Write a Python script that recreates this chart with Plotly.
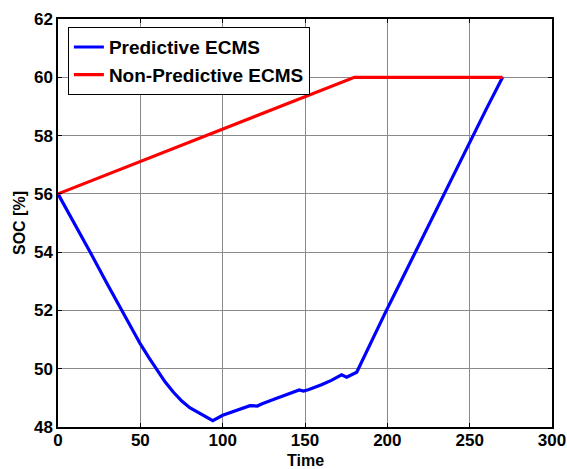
import plotly.graph_objects as go

# Predictive ECMS state-of-charge trajectory
pred_time = [0, 5, 10, 20, 30, 38.7, 44, 50, 55, 60, 65, 70, 75, 80, 87, 94, 100, 110,
             116.6, 121, 124, 132, 140, 146.5, 149, 152, 160, 166, 172.2, 175.3, 181.4,
             190, 199, 210, 220, 230, 240, 250, 260, 270]
pred_soc = [56.0, 55.5, 55.0, 53.95, 52.9, 52.0, 51.45, 50.85, 50.4, 49.96, 49.55, 49.2,
            48.9, 48.66, 48.45, 48.22, 48.4, 48.6, 48.73, 48.72, 48.8, 48.97, 49.12,
            49.27, 49.23, 49.28, 49.45, 49.6, 49.79, 49.71, 49.88, 50.9, 51.95, 53.2,
            54.35, 55.5, 56.65, 57.8, 58.9, 60.0]

# Non-predictive ECMS: linear charge then hold at the upper limit
nonpred_time = [0, 180, 270]
nonpred_soc = [56.0, 60.0, 60.0]

x_ticks = [0, 50, 100, 150, 200, 250, 300]
y_ticks = [48, 50, 52, 54, 56, 58, 60, 62]

font_family = "Liberation Sans, Arial, sans-serif"


def bold(s):
    return f"<b>{s}</b>"


fig = go.Figure()
fig.add_trace(go.Scatter(x=pred_time, y=pred_soc, mode="lines",
                         name=bold("Predictive ECMS"),
                         line=dict(color="#0000ff", width=3.2)))
fig.add_trace(go.Scatter(x=nonpred_time, y=nonpred_soc, mode="lines",
                         name=bold("Non-Predictive ECMS"),
                         line=dict(color="#ff0000", width=3.2)))

axis_common = dict(
    showline=True, linecolor="black", linewidth=1.5, mirror="ticks",
    ticks="inside", ticklen=4, tickcolor="black",
    showgrid=True, gridcolor="#8a8a8a", gridwidth=1,
    zeroline=False, automargin=False, ticklabeloverflow="allow",
    tickfont=dict(family=font_family, size=17, color="black"),
)

fig.update_xaxes(range=[0, 300], tickvals=x_ticks,
                 ticktext=[bold(v) for v in x_ticks],
                 ticklabelstandoff=-3,
                 **axis_common)
fig.update_yaxes(range=[48, 62], tickvals=y_ticks,
                 ticktext=[bold(v) for v in y_ticks],
                 title=dict(text=bold("SOC [%]"), standoff=4,
                            font=dict(family=font_family, size=16, color="black")),
                 **axis_common)

# x-axis title placed as an annotation just below the tick labels
fig.add_annotation(text=bold("Time"), xref="paper", yref="paper",
                   x=0.5, y=0, xanchor="center", yanchor="middle",
                   yshift=-33, showarrow=False, borderpad=0,
                   font=dict(family=font_family, size=16, color="black"))

fig.update_layout(
    width=567, height=469,
    margin=dict(l=58, r=15, t=19, b=42),
    paper_bgcolor="white", plot_bgcolor="white",
    showlegend=True,
    legend=dict(x=0.02, y=0.98, xanchor="left", yanchor="top",
                bgcolor="white", bordercolor="black", borderwidth=1,
                itemwidth=30, tracegroupgap=0,
                font=dict(family=font_family, size=19, color="black")),
)

fig.write_html("out.html")
